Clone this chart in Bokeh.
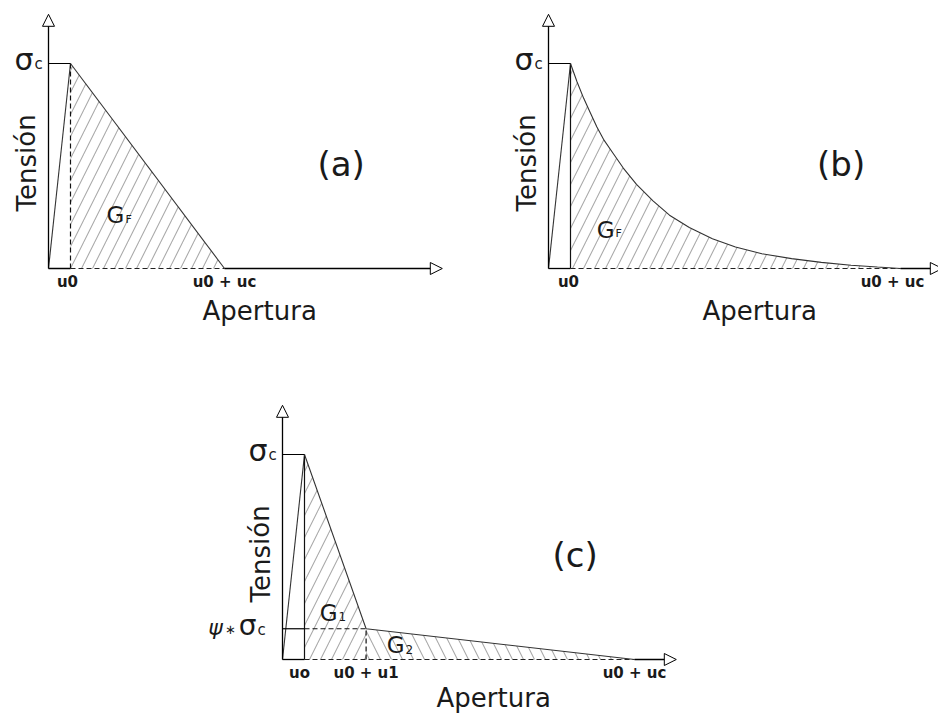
from bokeh.plotting import figure
from bokeh.models import Range1d, Arrow, NormalHead, Label, Spacer
from bokeh.layouts import column, row
from bokeh.embed import file_html
from bokeh.resources import INLINE

# Cohesive softening laws (tension vs crack opening), normalised units
SIGMA_C = 1.0      # tensile strength
U0 = 0.1           # opening at peak
UC_A = 0.7         # critical opening, linear law
UC_B = 1.5         # critical opening, exponential law
UC_C = 1.5         # critical opening, bilinear law
U1_C = 0.28        # opening at the kink of the bilinear law
PSI = 0.15         # stress ratio at the kink

# exponential branch (b): fraction of uc after the peak / fraction of sigma_c
curve_b_xfrac = [0.0, 0.02, 0.04, 0.06, 0.08, 0.10, 0.13, 0.16, 0.20, 0.25,
                 0.30, 0.36, 0.43, 0.50, 0.58, 0.67, 0.76, 0.85, 0.93, 1.0]
curve_b_yfrac = [1.0, 0.91, 0.83, 0.76, 0.69, 0.63, 0.56, 0.49, 0.41, 0.33,
                 0.26, 0.20, 0.145, 0.105, 0.072, 0.048, 0.030, 0.016,
                 0.007, 0.0]

ticks_a = ["u0", "u0 + uc"]
ticks_b = ["u0", "u0 + uc"]
ticks_c = ["uo", "u0 + u1", "u0 + uc"]
x_title = "Apertura"
y_title = "Tensión"
panel_tags = ["(a)", "(b)", "(c)"]

# axis extents (arrow tips) in data units
X_TIP = 1.79
Y_TIP = 1.24

SX, SY = 220.0, 205.0          # pixels per data unit
FONT = "DejaVu Sans"
INK = "#1a1a1a"
LINE = "#333333"
HATCH = "#ababab"
MID = 0.346                    # em-box middle above the baseline


def make_panel(width, height, ox, oy):
    p = figure(width=width, height=height, output_backend="svg",
               toolbar_location=None,
               x_range=Range1d(-ox / SX, (width - ox) / SX),
               y_range=Range1d(-(height - oy) / SY, oy / SY),
               x_axis_location=None, y_axis_location=None,
               min_border=0, outline_line_color=None)
    p.grid.visible = False
    p.background_fill_color = "white"
    p.border_fill_color = "white"
    return p


def put(p, x, y, text, size, dx=0, dy=0, align="center", angle=0.0,
        style="normal"):
    p.add_layout(Label(x=x, y=y, x_offset=dx, y_offset=dy, text=text,
                       text_font=FONT, text_font_size=f"{size}px",
                       text_align=align, text_baseline="middle",
                       angle=angle, text_color=INK, text_font_style=style))


def on_base(p, x, y, text, size, dx=0, base=0, align="left", style="normal"):
    # place a text so that its baseline sits `base` pixels above (x, y)
    put(p, x, y, text, size, dx=dx, dy=base + MID * size, align=align,
        style=style)


def sub(p, x, y, main, small, size_main, size_small, dx=0, base=0):
    on_base(p, x, y, main, size_main, dx=dx, base=base, align="right")
    on_base(p, x, y, small, size_small, dx=dx + 1, base=base, align="left")


def arrow(p, x0, y0, x1, y1):
    p.add_layout(Arrow(end=NormalHead(size=12, fill_color="white",
                                      line_color="black", line_width=1),
                       x_start=x0, y_start=y0, x_end=x1, y_end=y1,
                       line_color="black", line_width=1.3))


def hatch(p, xs, ys, pattern):
    p.patch(xs, ys, fill_alpha=0, hatch_pattern=pattern, hatch_color=HATCH,
            hatch_scale=22, hatch_weight=1.1, line_alpha=0)


def frame(p, end, tag, dashed_u0, title_dy=-42):
    # axes with open arrowheads, peak plateau line and elastic rise
    arrow(p, 0, 0, 0, Y_TIP)
    arrow(p, end, 0, X_TIP, 0)
    p.line([0, U0], [0, 0], line_color="black", line_width=1.3)
    p.line([U0, end], [0, 0], line_color="#222222", line_width=1.2,
           line_dash="5 3")
    p.line([0, U0], [SIGMA_C, SIGMA_C], line_color="black", line_width=1.2)
    p.line([0, U0], [0, SIGMA_C], line_color=LINE, line_width=1.1)
    p.line([U0, U0], [0, SIGMA_C], line_color="#111111", line_width=1.2,
           line_dash="5 3" if dashed_u0 else "solid")
    # titles
    put(p, 0.96, 0, x_title, 26, dy=title_dy)
    put(p, 0, 0.515, y_title, 26, dx=-22, angle=1.5708)
    put(p, 1.33, 0.51, tag, 34)
    sub(p, 0, SIGMA_C, "σ", "c", 30, 15, dx=-15, base=-6)


# ---------------- (a) linear softening ----------------
pa = make_panel(469, 357, 48, 268)
end_a = U0 + UC_A
hatch(pa, [U0, U0, end_a], [0, SIGMA_C, 0], "/")
frame(pa, end_a, panel_tags[0], dashed_u0=True)
pa.line([U0, end_a], [SIGMA_C, 0], line_color=LINE, line_width=1.1)
put(pa, U0, 0, ticks_a[0], 15, dx=-3, dy=-13, style="bold")
put(pa, end_a, 0, ticks_a[1], 15, dy=-13, style="bold")
sub(pa, 0.345, 0.22, "G", "F", 23, 11)

# ---------------- (b) exponential softening ----------------
pb = make_panel(469, 357, 79, 268)
end_b = U0 + UC_B
xb = [U0 + f * UC_B for f in curve_b_xfrac]
yb = [f * SIGMA_C for f in curve_b_yfrac]
hatch(pb, [U0] + xb + [end_b], [0] + yb + [0], "/")
frame(pb, end_b, panel_tags[1], dashed_u0=False)
pb.line(xb, yb, line_color=LINE, line_width=1.1)
put(pb, U0, 0, ticks_b[0], 15, dx=-2, dy=-13, style="bold")
put(pb, end_b, 0, ticks_b[1], 15, dx=-8, dy=-13, style="bold")
sub(pb, 0.30, 0.15, "G", "F", 23, 11)

# ---------------- (c) bilinear softening ----------------
pc = make_panel(520, 357, 92, 302)
end_c = U0 + UC_C
kink_x = U0 + U1_C
kink_y = PSI * SIGMA_C
hatch(pc, [U0, U0, kink_x, kink_x], [0, SIGMA_C, kink_y, 0], "/")
hatch(pc, [kink_x, kink_x, end_c], [0, kink_y, 0], "\\")
frame(pc, end_c, panel_tags[2], dashed_u0=False, title_dy=-38)
pc.line([0, U0], [kink_y, kink_y], line_color="black", line_width=1.2)
pc.line([U0, kink_x], [kink_y, kink_y], line_color="#111111",
        line_width=1.2, line_dash="5 3")
pc.line([kink_x, kink_x], [0, kink_y], line_color="#111111",
        line_width=1.2, line_dash="5 3")
pc.line([U0, kink_x, end_c], [SIGMA_C, kink_y, 0], line_color=LINE,
        line_width=1.1)
put(pc, U0, 0, ticks_c[0], 15, dx=-5, dy=-13, style="bold")
put(pc, kink_x, 0, ticks_c[1], 15, dy=-13, style="bold")
put(pc, end_c, 0, ticks_c[2], 15, dy=-13, style="bold")
sub(pc, 0.25, 0.19, "G", "1", 23, 12)
sub(pc, 0.555, 0.03, "G", "2", 23, 12)
# psi * sigma_c label at the kink stress level
on_base(pc, 0, kink_y, "ψ", 22, dx=-67, base=-6, align="center",
        style="italic")
put(pc, 0, kink_y, "∗", 13, dx=-52, dy=-1)
sub(pc, 0, kink_y, "σ", "c", 28, 15, dx=-26, base=-6)

layout = column(row(pa, pb), row(Spacer(width=190, height=357), pc))
open("out.html", "w").write(file_html(layout, INLINE))
